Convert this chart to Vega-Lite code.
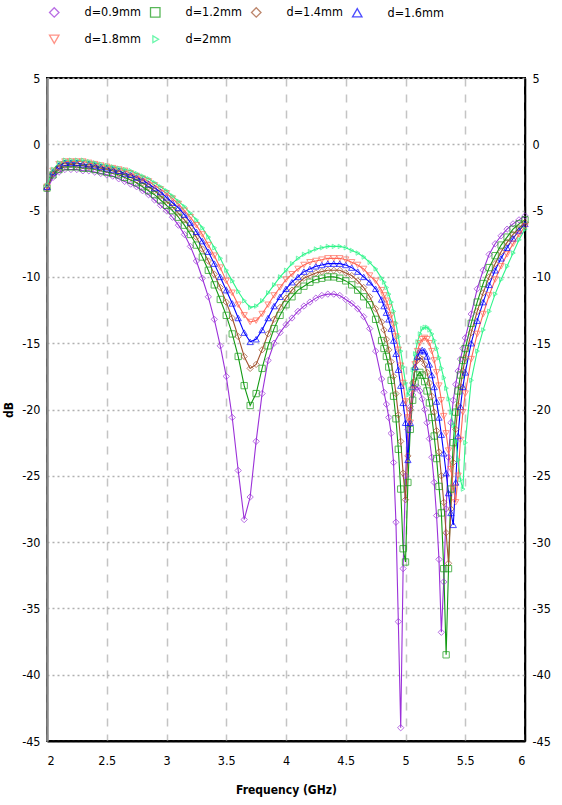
{
"$schema":"https://vega.github.io/schema/vega-lite/v6.json",
"width":478,"height":663,
"autosize":{"type":"none"},
"padding":{"left":47,"top":78,"right":37,"bottom":64},
"background":"white",
"config":{"view":{"stroke":"#000","strokeWidth":2},"font":"Liberation Sans Narrow, DejaVu Sans Condensed, Liberation Sans, sans-serif",
 "legend":{"orient":"none","legendX":1,"legendY":-72,"direction":"horizontal","columns":4,"columnPadding":6,"rowPadding":12,"symbolSize":90,"symbolStrokeWidth":1.3,"symbolFillColor":"transparent","labelOffset":24,"labelFontSize":12.5,"labelColor":"#000"}},
"data":{"values":[
{"f":2,"s":"0.9","v":-3.4},{"f":2.05,"s":"0.9","v":-2.5},{"f":2.1,"s":"0.9","v":-2.1},{"f":2.15,"s":"0.9","v":-1.9},{"f":2.2,"s":"0.9","v":-1.9},{"f":2.25,"s":"0.9","v":-1.9},{"f":2.3,"s":"0.9","v":-2.0},{"f":2.35,"s":"0.9","v":-2.0},{"f":2.4,"s":"0.9","v":-2.1},{"f":2.45,"s":"0.9","v":-2.2},{"f":2.5,"s":"0.9","v":-2.3},{"f":2.55,"s":"0.9","v":-2.4},{"f":2.6,"s":"0.9","v":-2.6},{"f":2.65,"s":"0.9","v":-2.8},{"f":2.7,"s":"0.9","v":-3.0},{"f":2.75,"s":"0.9","v":-3.2},{"f":2.8,"s":"0.9","v":-3.5},{"f":2.85,"s":"0.9","v":-3.8},{"f":2.9,"s":"0.9","v":-4.2},{"f":2.95,"s":"0.9","v":-4.6},{"f":3,"s":"0.9","v":-5.0},{"f":3.05,"s":"0.9","v":-5.5},{"f":3.1,"s":"0.9","v":-6.1},{"f":3.15,"s":"0.9","v":-6.8},{"f":3.2,"s":"0.9","v":-7.7},{"f":3.25,"s":"0.9","v":-8.8},{"f":3.3,"s":"0.9","v":-10.1},{"f":3.35,"s":"0.9","v":-11.5},{"f":3.4,"s":"0.9","v":-13.2},{"f":3.45,"s":"0.9","v":-15.2},{"f":3.5,"s":"0.9","v":-17.5},{"f":3.55,"s":"0.9","v":-20.6},{"f":3.6,"s":"0.9","v":-24.6},{"f":3.65,"s":"0.9","v":-28.3},{"f":3.7,"s":"0.9","v":-26.6},{"f":3.75,"s":"0.9","v":-22.4},{"f":3.8,"s":"0.9","v":-18.8},{"f":3.85,"s":"0.9","v":-16.3},{"f":3.9,"s":"0.9","v":-15.0},{"f":3.95,"s":"0.9","v":-14.2},{"f":4,"s":"0.9","v":-13.6},{"f":4.05,"s":"0.9","v":-13.1},{"f":4.1,"s":"0.9","v":-12.6},{"f":4.15,"s":"0.9","v":-12.2},{"f":4.2,"s":"0.9","v":-11.9},{"f":4.25,"s":"0.9","v":-11.6},{"f":4.3,"s":"0.9","v":-11.4},{"f":4.35,"s":"0.9","v":-11.3},{"f":4.4,"s":"0.9","v":-11.3},{"f":4.45,"s":"0.9","v":-11.4},{"f":4.5,"s":"0.9","v":-11.7},{"f":4.55,"s":"0.9","v":-12.0},{"f":4.6,"s":"0.9","v":-12.4},{"f":4.65,"s":"0.9","v":-13.0},{"f":4.7,"s":"0.9","v":-13.9},{"f":4.75,"s":"0.9","v":-15.6},{"f":4.8,"s":"0.9","v":-17.7},
{"f":4.82,"s":"0.9","v":-18.7},{"f":4.84,"s":"0.9","v":-19.6},{"f":4.86,"s":"0.9","v":-20.6},{"f":4.88,"s":"0.9","v":-21.8},{"f":4.9,"s":"0.9","v":-24.0},{"f":4.92,"s":"0.9","v":-28.5},{"f":4.94,"s":"0.9","v":-36.0},{"f":4.96,"s":"0.9","v":-44.0},{"f":4.98,"s":"0.9","v":-32.0},{"f":5,"s":"0.9","v":-25.0},{"f":5.02,"s":"0.9","v":-21.5},{"f":5.04,"s":"0.9","v":-19.8},{"f":5.06,"s":"0.9","v":-18.9},{"f":5.08,"s":"0.9","v":-18.4},{"f":5.1,"s":"0.9","v":-18.3},{"f":5.12,"s":"0.9","v":-18.6},{"f":5.14,"s":"0.9","v":-19.2},{"f":5.16,"s":"0.9","v":-20.0},{"f":5.18,"s":"0.9","v":-21.0},{"f":5.2,"s":"0.9","v":-22.2},{"f":5.22,"s":"0.9","v":-23.6},{"f":5.24,"s":"0.9","v":-25.5},{"f":5.26,"s":"0.9","v":-28.0},{"f":5.28,"s":"0.9","v":-31.3},{"f":5.3,"s":"0.9","v":-36.8},{"f":5.32,"s":"0.9","v":-33.0},{"f":5.34,"s":"0.9","v":-27.5},{"f":5.36,"s":"0.9","v":-23.6},{"f":5.38,"s":"0.9","v":-21.0},{"f":5.4,"s":"0.9","v":-19.3},{"f":5.42,"s":"0.9","v":-18.1},{"f":5.44,"s":"0.9","v":-17.1},{"f":5.46,"s":"0.9","v":-16.2},{"f":5.48,"s":"0.9","v":-15.4},{"f":5.5,"s":"0.9","v":-14.6},
{"f":5.55,"s":"0.9","v":-12.8},{"f":5.6,"s":"0.9","v":-10.9},{"f":5.65,"s":"0.9","v":-9.5},{"f":5.7,"s":"0.9","v":-8.3},{"f":5.75,"s":"0.9","v":-7.5},{"f":5.8,"s":"0.9","v":-6.9},{"f":5.85,"s":"0.9","v":-6.4},{"f":5.9,"s":"0.9","v":-6.0},{"f":5.95,"s":"0.9","v":-5.7},{"f":6,"s":"0.9","v":-5.4},

{"f":2,"s":"1.2","v":-3.3},{"f":2.05,"s":"1.2","v":-2.3},{"f":2.1,"s":"1.2","v":-1.9},{"f":2.15,"s":"1.2","v":-1.7},{"f":2.2,"s":"1.2","v":-1.7},{"f":2.25,"s":"1.2","v":-1.7},{"f":2.3,"s":"1.2","v":-1.8},{"f":2.35,"s":"1.2","v":-1.8},{"f":2.4,"s":"1.2","v":-1.9},{"f":2.45,"s":"1.2","v":-2.0},{"f":2.5,"s":"1.2","v":-2.1},{"f":2.55,"s":"1.2","v":-2.2},{"f":2.6,"s":"1.2","v":-2.3},{"f":2.65,"s":"1.2","v":-2.5},{"f":2.7,"s":"1.2","v":-2.7},{"f":2.75,"s":"1.2","v":-2.9},{"f":2.8,"s":"1.2","v":-3.2},{"f":2.85,"s":"1.2","v":-3.5},{"f":2.9,"s":"1.2","v":-3.8},{"f":2.95,"s":"1.2","v":-4.2},{"f":3,"s":"1.2","v":-4.6},{"f":3.05,"s":"1.2","v":-5.0},{"f":3.1,"s":"1.2","v":-5.5},{"f":3.15,"s":"1.2","v":-6.1},{"f":3.2,"s":"1.2","v":-6.8},{"f":3.25,"s":"1.2","v":-7.6},{"f":3.3,"s":"1.2","v":-8.5},{"f":3.35,"s":"1.2","v":-9.5},{"f":3.4,"s":"1.2","v":-10.6},{"f":3.45,"s":"1.2","v":-11.7},{"f":3.5,"s":"1.2","v":-12.9},{"f":3.55,"s":"1.2","v":-14.3},{"f":3.6,"s":"1.2","v":-16.0},{"f":3.65,"s":"1.2","v":-18.2},{"f":3.7,"s":"1.2","v":-19.7},{"f":3.75,"s":"1.2","v":-18.8},{"f":3.8,"s":"1.2","v":-16.9},{"f":3.85,"s":"1.2","v":-15.2},{"f":3.9,"s":"1.2","v":-13.9},{"f":3.95,"s":"1.2","v":-12.9},{"f":4,"s":"1.2","v":-12.1},{"f":4.05,"s":"1.2","v":-11.5},{"f":4.1,"s":"1.2","v":-11.0},{"f":4.15,"s":"1.2","v":-10.7},{"f":4.2,"s":"1.2","v":-10.4},{"f":4.25,"s":"1.2","v":-10.2},{"f":4.3,"s":"1.2","v":-10.1},{"f":4.35,"s":"1.2","v":-10.0},{"f":4.4,"s":"1.2","v":-10.0},{"f":4.45,"s":"1.2","v":-10.1},{"f":4.5,"s":"1.2","v":-10.3},{"f":4.55,"s":"1.2","v":-10.6},{"f":4.6,"s":"1.2","v":-11.0},{"f":4.65,"s":"1.2","v":-11.5},{"f":4.7,"s":"1.2","v":-12.1},{"f":4.75,"s":"1.2","v":-13.2},{"f":4.8,"s":"1.2","v":-14.8},
{"f":4.82,"s":"1.2","v":-15.4},{"f":4.84,"s":"1.2","v":-16.0},{"f":4.86,"s":"1.2","v":-16.8},{"f":4.88,"s":"1.2","v":-17.8},{"f":4.9,"s":"1.2","v":-19.0},{"f":4.92,"s":"1.2","v":-20.7},{"f":4.94,"s":"1.2","v":-23.0},{"f":4.96,"s":"1.2","v":-26.0},{"f":4.98,"s":"1.2","v":-30.5},{"f":5,"s":"1.2","v":-31.5},{"f":5.02,"s":"1.2","v":-25.5},{"f":5.04,"s":"1.2","v":-21.5},{"f":5.06,"s":"1.2","v":-19.3},{"f":5.08,"s":"1.2","v":-18.0},{"f":5.1,"s":"1.2","v":-17.4},{"f":5.12,"s":"1.2","v":-17.2},{"f":5.14,"s":"1.2","v":-17.4},{"f":5.16,"s":"1.2","v":-17.9},{"f":5.18,"s":"1.2","v":-18.6},{"f":5.2,"s":"1.2","v":-19.5},{"f":5.22,"s":"1.2","v":-20.6},{"f":5.24,"s":"1.2","v":-22.0},{"f":5.26,"s":"1.2","v":-23.7},{"f":5.28,"s":"1.2","v":-25.8},{"f":5.3,"s":"1.2","v":-27.8},{"f":5.32,"s":"1.2","v":-32.0},{"f":5.34,"s":"1.2","v":-38.5},{"f":5.36,"s":"1.2","v":-32.0},{"f":5.38,"s":"1.2","v":-26.0},{"f":5.4,"s":"1.2","v":-22.5},{"f":5.42,"s":"1.2","v":-20.2},{"f":5.44,"s":"1.2","v":-18.6},{"f":5.46,"s":"1.2","v":-17.4},{"f":5.48,"s":"1.2","v":-16.3},{"f":5.5,"s":"1.2","v":-15.4},
{"f":5.55,"s":"1.2","v":-13.5},{"f":5.6,"s":"1.2","v":-11.9},{"f":5.65,"s":"1.2","v":-10.5},{"f":5.7,"s":"1.2","v":-9.3},{"f":5.75,"s":"1.2","v":-8.4},{"f":5.8,"s":"1.2","v":-7.6},{"f":5.85,"s":"1.2","v":-7.0},{"f":5.9,"s":"1.2","v":-6.4},{"f":5.95,"s":"1.2","v":-6.0},{"f":6,"s":"1.2","v":-5.7},

{"f":2,"s":"1.4","v":-3.3},{"f":2.05,"s":"1.4","v":-2.2},{"f":2.1,"s":"1.4","v":-1.8},{"f":2.15,"s":"1.4","v":-1.6},{"f":2.2,"s":"1.4","v":-1.5},{"f":2.25,"s":"1.4","v":-1.6},{"f":2.3,"s":"1.4","v":-1.6},{"f":2.35,"s":"1.4","v":-1.7},{"f":2.4,"s":"1.4","v":-1.7},{"f":2.45,"s":"1.4","v":-1.8},{"f":2.5,"s":"1.4","v":-1.9},{"f":2.55,"s":"1.4","v":-2.0},{"f":2.6,"s":"1.4","v":-2.2},{"f":2.65,"s":"1.4","v":-2.3},{"f":2.7,"s":"1.4","v":-2.5},{"f":2.75,"s":"1.4","v":-2.7},{"f":2.8,"s":"1.4","v":-2.9},{"f":2.85,"s":"1.4","v":-3.2},{"f":2.9,"s":"1.4","v":-3.5},{"f":2.95,"s":"1.4","v":-3.9},{"f":3,"s":"1.4","v":-4.3},{"f":3.05,"s":"1.4","v":-4.7},{"f":3.1,"s":"1.4","v":-5.2},{"f":3.15,"s":"1.4","v":-5.7},{"f":3.2,"s":"1.4","v":-6.3},{"f":3.25,"s":"1.4","v":-7.0},{"f":3.3,"s":"1.4","v":-7.9},{"f":3.35,"s":"1.4","v":-8.8},{"f":3.4,"s":"1.4","v":-9.8},{"f":3.45,"s":"1.4","v":-10.8},{"f":3.5,"s":"1.4","v":-11.9},{"f":3.55,"s":"1.4","v":-13.1},{"f":3.6,"s":"1.4","v":-14.5},{"f":3.65,"s":"1.4","v":-16.0},{"f":3.7,"s":"1.4","v":-16.9},{"f":3.75,"s":"1.4","v":-16.6},{"f":3.8,"s":"1.4","v":-15.5},{"f":3.85,"s":"1.4","v":-14.3},{"f":3.9,"s":"1.4","v":-13.2},{"f":3.95,"s":"1.4","v":-12.3},{"f":4,"s":"1.4","v":-11.6},{"f":4.05,"s":"1.4","v":-11.0},{"f":4.1,"s":"1.4","v":-10.5},{"f":4.15,"s":"1.4","v":-10.1},{"f":4.2,"s":"1.4","v":-9.9},{"f":4.25,"s":"1.4","v":-9.7},{"f":4.3,"s":"1.4","v":-9.6},{"f":4.35,"s":"1.4","v":-9.5},{"f":4.4,"s":"1.4","v":-9.5},{"f":4.45,"s":"1.4","v":-9.5},{"f":4.5,"s":"1.4","v":-9.7},{"f":4.55,"s":"1.4","v":-9.9},{"f":4.6,"s":"1.4","v":-10.3},{"f":4.65,"s":"1.4","v":-10.8},{"f":4.7,"s":"1.4","v":-11.5},{"f":4.75,"s":"1.4","v":-12.4},{"f":4.8,"s":"1.4","v":-13.4},
{"f":4.82,"s":"1.4","v":-14.0},{"f":4.84,"s":"1.4","v":-14.7},{"f":4.86,"s":"1.4","v":-15.5},{"f":4.88,"s":"1.4","v":-16.4},{"f":4.9,"s":"1.4","v":-17.5},{"f":4.92,"s":"1.4","v":-18.8},{"f":4.94,"s":"1.4","v":-20.4},{"f":4.96,"s":"1.4","v":-22.4},{"f":4.98,"s":"1.4","v":-24.8},{"f":5,"s":"1.4","v":-26.8},{"f":5.02,"s":"1.4","v":-23.5},{"f":5.04,"s":"1.4","v":-20.0},{"f":5.06,"s":"1.4","v":-18.0},{"f":5.08,"s":"1.4","v":-16.9},{"f":5.1,"s":"1.4","v":-16.3},{"f":5.12,"s":"1.4","v":-16.1},{"f":5.14,"s":"1.4","v":-16.2},{"f":5.16,"s":"1.4","v":-16.6},{"f":5.18,"s":"1.4","v":-17.2},{"f":5.2,"s":"1.4","v":-18.0},{"f":5.22,"s":"1.4","v":-19.0},{"f":5.24,"s":"1.4","v":-20.2},{"f":5.26,"s":"1.4","v":-21.6},{"f":5.28,"s":"1.4","v":-23.2},{"f":5.3,"s":"1.4","v":-25.0},{"f":5.32,"s":"1.4","v":-27.0},{"f":5.34,"s":"1.4","v":-29.3},{"f":5.36,"s":"1.4","v":-31.6},{"f":5.38,"s":"1.4","v":-27.5},{"f":5.4,"s":"1.4","v":-24.0},{"f":5.42,"s":"1.4","v":-21.5},{"f":5.44,"s":"1.4","v":-19.7},{"f":5.46,"s":"1.4","v":-18.3},{"f":5.48,"s":"1.4","v":-17.1},{"f":5.5,"s":"1.4","v":-16.1},
{"f":5.55,"s":"1.4","v":-14.2},{"f":5.6,"s":"1.4","v":-12.6},{"f":5.65,"s":"1.4","v":-11.2},{"f":5.7,"s":"1.4","v":-10.0},{"f":5.75,"s":"1.4","v":-9.0},{"f":5.8,"s":"1.4","v":-8.1},{"f":5.85,"s":"1.4","v":-7.4},{"f":5.9,"s":"1.4","v":-6.8},{"f":5.95,"s":"1.4","v":-6.3},{"f":6,"s":"1.4","v":-5.9},

{"f":2,"s":"1.6","v":-3.2},{"f":2.05,"s":"1.6","v":-2.1},{"f":2.1,"s":"1.6","v":-1.6},{"f":2.15,"s":"1.6","v":-1.4},{"f":2.2,"s":"1.6","v":-1.4},{"f":2.25,"s":"1.6","v":-1.4},{"f":2.3,"s":"1.6","v":-1.5},{"f":2.35,"s":"1.6","v":-1.5},{"f":2.4,"s":"1.6","v":-1.6},{"f":2.45,"s":"1.6","v":-1.7},{"f":2.5,"s":"1.6","v":-1.8},{"f":2.55,"s":"1.6","v":-1.9},{"f":2.6,"s":"1.6","v":-2.0},{"f":2.65,"s":"1.6","v":-2.2},{"f":2.7,"s":"1.6","v":-2.3},{"f":2.75,"s":"1.6","v":-2.5},{"f":2.8,"s":"1.6","v":-2.7},{"f":2.85,"s":"1.6","v":-3.0},{"f":2.9,"s":"1.6","v":-3.3},{"f":2.95,"s":"1.6","v":-3.6},{"f":3,"s":"1.6","v":-4.0},{"f":3.05,"s":"1.6","v":-4.4},{"f":3.1,"s":"1.6","v":-4.8},{"f":3.15,"s":"1.6","v":-5.3},{"f":3.2,"s":"1.6","v":-5.9},{"f":3.25,"s":"1.6","v":-6.6},{"f":3.3,"s":"1.6","v":-7.3},{"f":3.35,"s":"1.6","v":-8.1},{"f":3.4,"s":"1.6","v":-9.0},{"f":3.45,"s":"1.6","v":-10.0},{"f":3.5,"s":"1.6","v":-11.0},{"f":3.55,"s":"1.6","v":-12.0},{"f":3.6,"s":"1.6","v":-13.1},{"f":3.65,"s":"1.6","v":-14.2},{"f":3.7,"s":"1.6","v":-14.9},{"f":3.75,"s":"1.6","v":-14.7},{"f":3.8,"s":"1.6","v":-14.0},{"f":3.85,"s":"1.6","v":-13.1},{"f":3.9,"s":"1.6","v":-12.2},{"f":3.95,"s":"1.6","v":-11.5},{"f":4,"s":"1.6","v":-10.9},{"f":4.05,"s":"1.6","v":-10.4},{"f":4.1,"s":"1.6","v":-10.0},{"f":4.15,"s":"1.6","v":-9.6},{"f":4.2,"s":"1.6","v":-9.4},{"f":4.25,"s":"1.6","v":-9.2},{"f":4.3,"s":"1.6","v":-9.1},{"f":4.35,"s":"1.6","v":-9.0},{"f":4.4,"s":"1.6","v":-9.0},{"f":4.45,"s":"1.6","v":-9.0},{"f":4.5,"s":"1.6","v":-9.1},{"f":4.55,"s":"1.6","v":-9.3},{"f":4.6,"s":"1.6","v":-9.6},{"f":4.65,"s":"1.6","v":-10.0},{"f":4.7,"s":"1.6","v":-10.4},{"f":4.75,"s":"1.6","v":-10.9},{"f":4.8,"s":"1.6","v":-11.7},
{"f":4.82,"s":"1.6","v":-12.2},{"f":4.84,"s":"1.6","v":-12.7},{"f":4.86,"s":"1.6","v":-13.2},{"f":4.88,"s":"1.6","v":-13.9},{"f":4.9,"s":"1.6","v":-14.8},{"f":4.92,"s":"1.6","v":-15.8},{"f":4.94,"s":"1.6","v":-17.0},{"f":4.96,"s":"1.6","v":-18.2},{"f":4.98,"s":"1.6","v":-19.5},{"f":5,"s":"1.6","v":-21.0},{"f":5.02,"s":"1.6","v":-23.8},{"f":5.04,"s":"1.6","v":-21.0},{"f":5.06,"s":"1.6","v":-18.3},{"f":5.08,"s":"1.6","v":-16.8},{"f":5.1,"s":"1.6","v":-16.0},{"f":5.12,"s":"1.6","v":-15.6},{"f":5.14,"s":"1.6","v":-15.5},{"f":5.16,"s":"1.6","v":-15.6},{"f":5.18,"s":"1.6","v":-16.0},{"f":5.2,"s":"1.6","v":-16.6},{"f":5.22,"s":"1.6","v":-17.4},{"f":5.24,"s":"1.6","v":-18.3},{"f":5.26,"s":"1.6","v":-19.4},{"f":5.28,"s":"1.6","v":-20.6},{"f":5.3,"s":"1.6","v":-21.9},{"f":5.32,"s":"1.6","v":-23.3},{"f":5.34,"s":"1.6","v":-24.8},{"f":5.36,"s":"1.6","v":-26.3},{"f":5.38,"s":"1.6","v":-27.8},{"f":5.4,"s":"1.6","v":-28.7},{"f":5.42,"s":"1.6","v":-25.5},{"f":5.44,"s":"1.6","v":-22.0},{"f":5.46,"s":"1.6","v":-19.8},{"f":5.48,"s":"1.6","v":-18.3},{"f":5.5,"s":"1.6","v":-17.2},
{"f":5.55,"s":"1.6","v":-15.0},{"f":5.6,"s":"1.6","v":-13.3},{"f":5.65,"s":"1.6","v":-11.9},{"f":5.7,"s":"1.6","v":-10.6},{"f":5.75,"s":"1.6","v":-9.5},{"f":5.8,"s":"1.6","v":-8.6},{"f":5.85,"s":"1.6","v":-7.8},{"f":5.9,"s":"1.6","v":-7.1},{"f":5.95,"s":"1.6","v":-6.5},{"f":6,"s":"1.6","v":-6.0},

{"f":2,"s":"1.8","v":-3.2},{"f":2.05,"s":"1.8","v":-2.0},{"f":2.1,"s":"1.8","v":-1.5},{"f":2.15,"s":"1.8","v":-1.3},{"f":2.2,"s":"1.8","v":-1.3},{"f":2.25,"s":"1.8","v":-1.3},{"f":2.3,"s":"1.8","v":-1.3},{"f":2.35,"s":"1.8","v":-1.4},{"f":2.4,"s":"1.8","v":-1.5},{"f":2.45,"s":"1.8","v":-1.6},{"f":2.5,"s":"1.8","v":-1.7},{"f":2.55,"s":"1.8","v":-1.8},{"f":2.6,"s":"1.8","v":-1.9},{"f":2.65,"s":"1.8","v":-2.0},{"f":2.7,"s":"1.8","v":-2.2},{"f":2.75,"s":"1.8","v":-2.4},{"f":2.8,"s":"1.8","v":-2.6},{"f":2.85,"s":"1.8","v":-2.8},{"f":2.9,"s":"1.8","v":-3.1},{"f":2.95,"s":"1.8","v":-3.4},{"f":3,"s":"1.8","v":-3.7},{"f":3.05,"s":"1.8","v":-4.1},{"f":3.1,"s":"1.8","v":-4.5},{"f":3.15,"s":"1.8","v":-5.0},{"f":3.2,"s":"1.8","v":-5.5},{"f":3.25,"s":"1.8","v":-6.1},{"f":3.3,"s":"1.8","v":-6.8},{"f":3.35,"s":"1.8","v":-7.6},{"f":3.4,"s":"1.8","v":-8.4},{"f":3.45,"s":"1.8","v":-9.3},{"f":3.5,"s":"1.8","v":-10.3},{"f":3.55,"s":"1.8","v":-11.2},{"f":3.6,"s":"1.8","v":-12.1},{"f":3.65,"s":"1.8","v":-12.9},{"f":3.7,"s":"1.8","v":-13.4},{"f":3.75,"s":"1.8","v":-13.3},{"f":3.8,"s":"1.8","v":-12.8},{"f":3.85,"s":"1.8","v":-12.1},{"f":3.9,"s":"1.8","v":-11.4},{"f":3.95,"s":"1.8","v":-10.8},{"f":4,"s":"1.8","v":-10.2},{"f":4.05,"s":"1.8","v":-9.8},{"f":4.1,"s":"1.8","v":-9.4},{"f":4.15,"s":"1.8","v":-9.1},{"f":4.2,"s":"1.8","v":-8.9},{"f":4.25,"s":"1.8","v":-8.8},{"f":4.3,"s":"1.8","v":-8.7},{"f":4.35,"s":"1.8","v":-8.6},{"f":4.4,"s":"1.8","v":-8.6},{"f":4.45,"s":"1.8","v":-8.6},{"f":4.5,"s":"1.8","v":-8.7},{"f":4.55,"s":"1.8","v":-8.9},{"f":4.6,"s":"1.8","v":-9.1},{"f":4.65,"s":"1.8","v":-9.4},{"f":4.7,"s":"1.8","v":-9.9},{"f":4.75,"s":"1.8","v":-10.3},{"f":4.8,"s":"1.8","v":-11.0},
{"f":4.82,"s":"1.8","v":-11.4},{"f":4.84,"s":"1.8","v":-11.8},{"f":4.86,"s":"1.8","v":-12.3},{"f":4.88,"s":"1.8","v":-12.9},{"f":4.9,"s":"1.8","v":-13.6},{"f":4.92,"s":"1.8","v":-14.5},{"f":4.94,"s":"1.8","v":-15.5},{"f":4.96,"s":"1.8","v":-16.7},{"f":4.98,"s":"1.8","v":-18.0},{"f":5,"s":"1.8","v":-19.4},{"f":5.02,"s":"1.8","v":-20.6},{"f":5.04,"s":"1.8","v":-21.0},{"f":5.06,"s":"1.8","v":-18.5},{"f":5.08,"s":"1.8","v":-16.6},{"f":5.1,"s":"1.8","v":-15.6},{"f":5.12,"s":"1.8","v":-15.0},{"f":5.14,"s":"1.8","v":-14.7},{"f":5.16,"s":"1.8","v":-14.6},{"f":5.18,"s":"1.8","v":-14.7},{"f":5.2,"s":"1.8","v":-15.0},{"f":5.22,"s":"1.8","v":-15.6},{"f":5.24,"s":"1.8","v":-16.3},{"f":5.26,"s":"1.8","v":-17.2},{"f":5.28,"s":"1.8","v":-18.2},{"f":5.3,"s":"1.8","v":-19.3},{"f":5.32,"s":"1.8","v":-20.5},{"f":5.34,"s":"1.8","v":-21.8},{"f":5.36,"s":"1.8","v":-23.1},{"f":5.38,"s":"1.8","v":-24.5},{"f":5.4,"s":"1.8","v":-25.9},{"f":5.42,"s":"1.8","v":-27.0},{"f":5.44,"s":"1.8","v":-25.0},{"f":5.46,"s":"1.8","v":-22.3},{"f":5.48,"s":"1.8","v":-20.2},{"f":5.5,"s":"1.8","v":-18.8},
{"f":5.55,"s":"1.8","v":-16.2},{"f":5.6,"s":"1.8","v":-14.3},{"f":5.65,"s":"1.8","v":-12.8},{"f":5.7,"s":"1.8","v":-11.4},{"f":5.75,"s":"1.8","v":-10.2},{"f":5.8,"s":"1.8","v":-9.2},{"f":5.85,"s":"1.8","v":-8.3},{"f":5.9,"s":"1.8","v":-7.5},{"f":5.95,"s":"1.8","v":-6.8},{"f":6,"s":"1.8","v":-6.2},

{"f":2,"s":"2","v":-3.1},{"f":2.05,"s":"2","v":-1.9},{"f":2.1,"s":"2","v":-1.4},{"f":2.15,"s":"2","v":-1.2},{"f":2.2,"s":"2","v":-1.2},{"f":2.25,"s":"2","v":-1.2},{"f":2.3,"s":"2","v":-1.2},{"f":2.35,"s":"2","v":-1.3},{"f":2.4,"s":"2","v":-1.4},{"f":2.45,"s":"2","v":-1.5},{"f":2.5,"s":"2","v":-1.6},{"f":2.55,"s":"2","v":-1.7},{"f":2.6,"s":"2","v":-1.8},{"f":2.65,"s":"2","v":-1.9},{"f":2.7,"s":"2","v":-2.0},{"f":2.75,"s":"2","v":-2.2},{"f":2.8,"s":"2","v":-2.4},{"f":2.85,"s":"2","v":-2.6},{"f":2.9,"s":"2","v":-2.9},{"f":2.95,"s":"2","v":-3.2},{"f":3,"s":"2","v":-3.5},{"f":3.05,"s":"2","v":-3.9},{"f":3.1,"s":"2","v":-4.3},{"f":3.15,"s":"2","v":-4.7},{"f":3.2,"s":"2","v":-5.2},{"f":3.25,"s":"2","v":-5.7},{"f":3.3,"s":"2","v":-6.3},{"f":3.35,"s":"2","v":-7.0},{"f":3.4,"s":"2","v":-7.8},{"f":3.45,"s":"2","v":-8.6},{"f":3.5,"s":"2","v":-9.5},{"f":3.55,"s":"2","v":-10.3},{"f":3.6,"s":"2","v":-11.1},{"f":3.65,"s":"2","v":-11.8},{"f":3.7,"s":"2","v":-12.3},{"f":3.75,"s":"2","v":-12.2},{"f":3.8,"s":"2","v":-11.8},{"f":3.85,"s":"2","v":-11.2},{"f":3.9,"s":"2","v":-10.6},{"f":3.95,"s":"2","v":-10.0},{"f":4,"s":"2","v":-9.5},{"f":4.05,"s":"2","v":-9.0},{"f":4.1,"s":"2","v":-8.6},{"f":4.15,"s":"2","v":-8.3},{"f":4.2,"s":"2","v":-8.1},{"f":4.25,"s":"2","v":-7.9},{"f":4.3,"s":"2","v":-7.8},{"f":4.35,"s":"2","v":-7.7},{"f":4.4,"s":"2","v":-7.7},{"f":4.45,"s":"2","v":-7.7},{"f":4.5,"s":"2","v":-7.8},{"f":4.55,"s":"2","v":-8.0},{"f":4.6,"s":"2","v":-8.2},{"f":4.65,"s":"2","v":-8.5},{"f":4.7,"s":"2","v":-8.9},{"f":4.75,"s":"2","v":-9.4},{"f":4.8,"s":"2","v":-10.1},
{"f":4.82,"s":"2","v":-10.4},{"f":4.84,"s":"2","v":-10.8},{"f":4.86,"s":"2","v":-11.3},{"f":4.88,"s":"2","v":-11.9},{"f":4.9,"s":"2","v":-12.6},{"f":4.92,"s":"2","v":-13.5},{"f":4.94,"s":"2","v":-14.5},{"f":4.96,"s":"2","v":-15.6},{"f":4.98,"s":"2","v":-16.8},{"f":5,"s":"2","v":-18.0},{"f":5.02,"s":"2","v":-18.9},{"f":5.04,"s":"2","v":-18.5},{"f":5.06,"s":"2","v":-17.0},{"f":5.08,"s":"2","v":-15.8},{"f":5.1,"s":"2","v":-14.9},{"f":5.12,"s":"2","v":-14.3},{"f":5.14,"s":"2","v":-13.9},{"f":5.16,"s":"2","v":-13.8},{"f":5.18,"s":"2","v":-13.8},{"f":5.2,"s":"2","v":-14.0},{"f":5.22,"s":"2","v":-14.3},{"f":5.24,"s":"2","v":-14.8},{"f":5.26,"s":"2","v":-15.4},{"f":5.28,"s":"2","v":-16.1},{"f":5.3,"s":"2","v":-16.9},{"f":5.32,"s":"2","v":-17.6},{"f":5.34,"s":"2","v":-18.4},{"f":5.36,"s":"2","v":-19.2},{"f":5.38,"s":"2","v":-20.2},{"f":5.4,"s":"2","v":-21.2},{"f":5.42,"s":"2","v":-22.4},{"f":5.44,"s":"2","v":-23.8},{"f":5.46,"s":"2","v":-25.3},{"f":5.48,"s":"2","v":-26.0},{"f":5.5,"s":"2","v":-22.5},
{"f":5.55,"s":"2","v":-17.8},{"f":5.6,"s":"2","v":-15.6},{"f":5.65,"s":"2","v":-14.0},{"f":5.7,"s":"2","v":-12.6},{"f":5.75,"s":"2","v":-11.3},{"f":5.8,"s":"2","v":-10.2},{"f":5.85,"s":"2","v":-9.2},{"f":5.9,"s":"2","v":-8.2},{"f":5.95,"s":"2","v":-7.2},{"f":6,"s":"2","v":-6.4}
]},
"layer":[
{"mark":{"type":"line","strokeWidth":1.1},
 "encoding":{
  "x":{"field":"f","type":"quantitative","scale":{"domain":[2,6],"nice":false,"zero":false},
   "axis":{"values":[2,2.5,3,3.5,4,4.5,5,5.5,6],"format":"~g","ticks":false,"domainColor":"#000","domainWidth":2,"grid":true,"gridColor":"#c4c4c4","gridDash":[8,8],"gridWidth":1.5,"labelFontSize":12.5,"labelColor":"#000","labelPadding":13,"title":"Frequency (GHz)","titleFontSize":12,"titleFontWeight":"bold","titleColor":"#000","titlePadding":18}},
  "y":{"field":"v","type":"quantitative","scale":{"domain":[-45,5],"nice":false,"zero":false},
   "axis":{"orient":"left","values":[-45,-40,-35,-30,-25,-20,-15,-10,-5,0,5],"labelExpr":"'' + datum.value","ticks":false,"domainColor":"#8a8a8a","domainWidth":2.5,"grid":true,"gridColor":"#b0b0b0","gridDash":[2,3],"gridWidth":1.5,"labelFontSize":12.5,"labelColor":"#000","labelPadding":7,"title":"dB","titleFontSize":12,"titleFontWeight":"bold","titleColor":"#000","titlePadding":6}},
  "color":{"field":"s","type":"nominal","scale":{"domain":["0.9","1.2","1.4","1.6","1.8","2"],"range":["#9B30D9","#129A12","#A0522D","#0000FF","#FF6655","#2EF58A"]},
   "legend":{"title":null,"labelExpr":"'d=' + datum.label + 'mm'"}}
 }},
{"mark":{"type":"point","filled":false,"size":40,"strokeWidth":1},
 "encoding":{
  "x":{"field":"f","type":"quantitative"},
  "y":{"field":"v","type":"quantitative","scale":{"domain":[-45,5],"nice":false,"zero":false},"axis":null},
  "shape":{"field":"s","type":"nominal","legend":null,"scale":{"domain":["0.9","1.2","1.4","1.6","1.8","2"],"range":["diamond","square","diamond","triangle-up","triangle-down","M-0.5,-0.7L0.7,0L-0.5,0.7Z"]}},
  "color":{"field":"s","type":"nominal","legend":{"title":null,"labelExpr":"'d=' + datum.label + 'mm'"}}
 }},
{"mark":{"type":"point","opacity":0},
 "encoding":{
  "x":{"field":"f","type":"quantitative"},
  "y":{"field":"v","type":"quantitative","scale":{"domain":[-45,5],"nice":false,"zero":false},
   "axis":{"orient":"right","values":[-45,-40,-35,-30,-25,-20,-15,-10,-5,0,5],"labelExpr":"'' + datum.value","ticks":false,"grid":false,"domainColor":"#000","domainWidth":1.5,"labelFontSize":12.5,"labelColor":"#000","labelPadding":7,"title":null}}
 }}
],
"resolve":{"scale":{"y":"independent"}}
}
